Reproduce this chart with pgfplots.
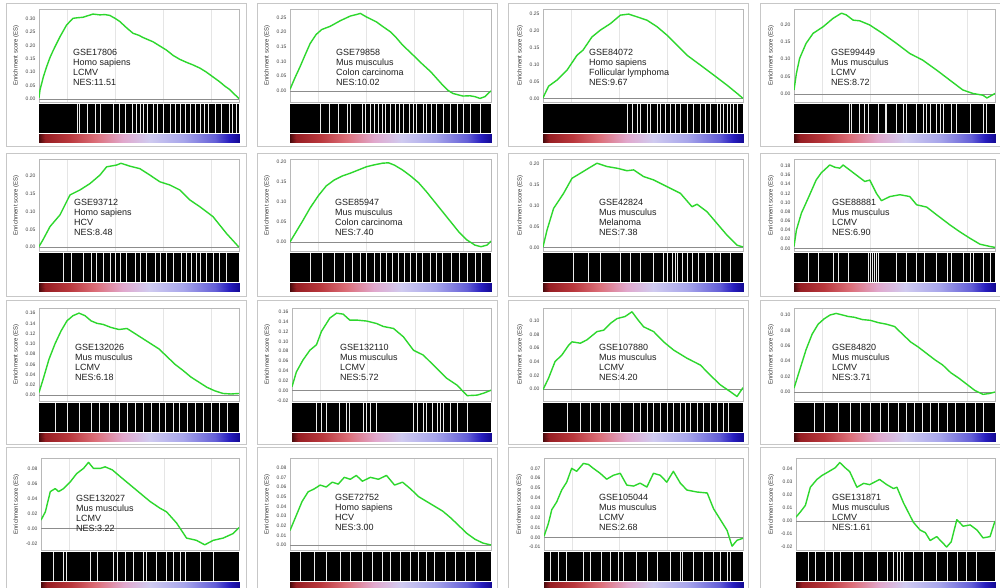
\documentclass[border=0pt]{standalone}
\usepackage{fontspec}
\setmainfont{Liberation Sans}
\usepackage{pgfplots}
\pgfplotsset{compat=1.18}
\definecolor{esgreen}{RGB}{45,215,45}

\pgfplotsset{
  colormap={gsea}{rgb255(0pt)=(70,10,12) rgb255(3pt)=(150,30,35) rgb255(15pt)=(185,55,60) rgb255(28pt)=(220,110,120) rgb255(42pt)=(225,168,205) rgb255(55pt)=(208,203,240) rgb255(72pt)=(168,166,235) rgb255(88pt)=(100,95,215) rgb255(95pt)=(40,30,190) rgb255(100pt)=(20,10,150)},
  esaxis/.style={scale only axis, xmin=0, xmax=100,
    axis line style={black!28}, xtick={14,38,62,86}, xticklabel=\empty,
    xmajorgrids, grid style={black!10}, tick style={draw=none},
    scaled y ticks=false,
    yticklabel style={font=\fontsize{5}{5}\selectfont, text=black!75,
      /pgf/number format/fixed, /pgf/number format/fixed zerofill,
      /pgf/number format/precision=2, /pgf/number format/assume math mode=true},
    ylabel={Enrichment score (ES)},
    ylabel style={font=\fontsize{6}{6}\selectfont, text=black!80}},
  baraxis/.style={scale only axis, hide axis, xmin=0, xmax=100, ymin=0, ymax=1},
  gradaxis/.style={scale only axis, hide axis, view={0}{90}, xmin=0, xmax=100,
    ymin=0, ymax=1, zmin=-1, zmax=1, colormap name=gsea},
}
\tikzset{txt/.style={anchor=north west, align=left, inner sep=0pt,
  font=\fontsize{9}{10.2}\selectfont, text=black!88}}

% #1 left, #2 width, #3 plot top, #4 barcode top, #5 ymin, #6 ymax, #7 yticks, #8 curve, #9 gaps
\newcommand{\gsea}[9]{%
  \pgfmathsetmacro\esh{#4-1.5-#3}%
  \begin{axis}[esaxis, at={(#1pt,-#3pt)}, anchor=north west, width=#2pt, height=\esh pt,
    ymin=#5, ymax=#6, ytick={#7}]
    \addplot[black!45, line width=0.5pt] coordinates {(0,0) (100,0)};
    \addplot[esgreen, line width=1.4pt, line join=round] coordinates {#8};
  \end{axis}
  \begin{axis}[baraxis, at={(#1pt,-#4pt)}, anchor=north west, width=#2pt, height=29pt]
    \addplot[fill=black, draw=none] coordinates {(0,1) (100,1)} \closedcycle;
    \addplot[ycomb, white!92!black, line width=0.55pt, mark=none] coordinates {#9};
  \end{axis}
  \pgfmathsetmacro\gy{#4+30}%
  \begin{axis}[gradaxis, at={(#1pt,-\gy pt)}, anchor=north west, width=#2pt, height=8.5pt]
    \addplot3[surf, shader=interp, point meta=x, mesh/rows=2, mesh/cols=21] coordinates {
      (0,0,0)(5,0,0)(10,0,0)(15,0,0)(20,0,0)(25,0,0)(30,0,0)(35,0,0)(40,0,0)(45,0,0)(50,0,0)
      (55,0,0)(60,0,0)(65,0,0)(70,0,0)(75,0,0)(80,0,0)(85,0,0)(90,0,0)(95,0,0)(100,0,0)
      (0,1,0)(5,1,0)(10,1,0)(15,1,0)(20,1,0)(25,1,0)(30,1,0)(35,1,0)(40,1,0)(45,1,0)(50,1,0)
      (55,1,0)(60,1,0)(65,1,0)(70,1,0)(75,1,0)(80,1,0)(85,1,0)(90,1,0)(95,1,0)(100,1,0)};
  \end{axis}
}

\begin{document}
\begin{tikzpicture}
\useasboundingbox[fill=white] (0,0) rectangle (1000pt,-587pt);
\foreach \cx in {6,257,508,760}{
  \foreach \ry/\rb in {3/146,153/296,300/444,447/600}{
    \draw[black!22, line width=0.6pt] (\cx pt,-\ry pt) rectangle ({(\cx+240)*1pt},-\rb pt);
  }
}

% ---------- row 1
\gsea{39}{200}{9}{104}{-0.014}{0.337}{0,0.05,...,0.30}
{(0,0.004)(0.5,0.033)(2.2,0.083)(3.8,0.12)(5.5,0.155)(7.2,0.183)(10.5,0.233)(13.8,0.277)(17,0.302)(19,0.304)(22,0.306)(24.5,0.312)(27,0.318)(30.4,0.315)(33,0.316)(35.4,0.313)(38,0.302)(40.4,0.29)(44,0.265)(47,0.246)(50,0.238)(52,0.23)(57,0.214)(60,0.2)(63.7,0.183)(67,0.163)(70.4,0.148)(74,0.136)(77,0.127)(80.5,0.115)(83.7,0.1)(87,0.082)(90.3,0.064)(93,0.047)(95.3,0.035)(98,0.015)(100,0.001)}
{(19,1)(20,1)(24,1)(28,1)(30.5,1)(37,1)(40,1)(43,1)(46.5,1)(48.4,1)(50.7,1)(52,1)(54,1)(57,1)(59,1)(62,1)(65.4,1)(68,1)(70.4,1)(73,1)(75.4,1)(78,1)(80.4,1)(82.5,1)(84.5,1)(88.3,1)(91,1)(95,1)(96.8,1)(98.5,1)}
\node[txt] at (73pt,-48.7pt) {GSE17806\\Homo sapiens\\LCMV\\NES:11.51};

\gsea{290}{201}{9}{104}{-0.040}{0.279}{0,0.05,...,0.25}
{(0,0.005)(2.5,0.045)(5,0.082)(7.5,0.122)(10,0.161)(13,0.192)(15.8,0.209)(20,0.22)(25,0.239)(30,0.255)(33,0.26)(35,0.264)(38,0.252)(43,0.235)(46,0.22)(50,0.201)(53,0.18)(56,0.156)(60,0.13)(63,0.11)(66,0.09)(70,0.065)(73,0.042)(76,0.019)(78.5,0.002)(81,-0.009)(86,-0.018)(89.5,-0.017)(92,-0.02)(94.5,-0.026)(97,-0.02)(100,0.0)}
{(15,1)(19.6,1)(24,1)(28.5,1)(30,1)(36,1)(37.3,1)(39.8,1)(42,1)(44,1)(45.8,1)(47.4,1)(50,1)(52.2,1)(54.4,1)(56.4,1)(59.4,1)(61.3,1)(63,1)(66.3,1)(68,1)(70.5,1)(73,1)(76.3,1)(79.6,1)(83,1)(86.2,1)(89.5,1)(94.5,1)}
\node[txt] at (336pt,-48.7pt) {GSE79858\\Mus musculus\\Colon carcinoma\\NES:10.02};

\gsea{543}{200}{9}{104}{-0.012}{0.263}{0,0.05,...,0.25}
{(0,0.002)(2.8,0.036)(7,0.054)(12,0.083)(17,0.127)(20,0.142)(24.5,0.181)(28.7,0.201)(33.7,0.22)(38.7,0.245)(42.8,0.248)(47,0.24)(52,0.23)(57,0.211)(62,0.186)(67,0.157)(72,0.127)(78.7,0.098)(85.3,0.069)(92,0.039)(97,0.015)(100,0)}
{(42,1)(44.5,1)(47,1)(48.7,1)(52,1)(53.7,1)(57,1)(58.7,1)(61,1)(63.7,1)(66.3,1)(68.7,1)(72,1)(75.3,1)(78.7,1)(81,1)(83.7,1)(87,1)(88.7,1)(90.3,1)(92,1)(93.7,1)(95.3,1)(97,1)}
\node[txt] at (589pt,-48.7pt) {GSE84072\\Homo sapiens\\Follicular lymphoma\\NES:9.67};

\gsea{794}{201}{9}{104}{-0.025}{0.244}{0,0.05,...,0.20}
{(0,0.011)(1.2,0.059)(2.8,0.102)(6,0.145)(9.5,0.174)(14.5,0.193)(19.4,0.217)(23.6,0.232)(26,0.227)(29.4,0.212)(32.7,0.21)(37.7,0.198)(44,0.174)(51,0.145)(57.6,0.116)(64,0.097)(71,0.068)(77.6,0.039)(84,0.011)(89,0.001)(94,-0.004)(96,-0.012)(100,0.001)}
{(27.4,1)(28.6,1)(32.7,1)(35.2,1)(36.9,1)(41.9,1)(45.2,1)(46,1)(51,1)(54.3,1)(56,1)(61,1)(64.3,1)(66,1)(67.6,1)(71,1)(72.6,1)(74.3,1)(78.4,1)(80.9,1)(87.5,1)(94.2,1)(95.8,1)}
\node[txt] at (831pt,-48.7pt) {GSE99449\\Mus musculus\\LCMV\\NES:8.72};

% ---------- row 2
\gsea{39}{200}{159}{253}{-0.012}{0.248}{0,0.05,...,0.20}
{(0,0.002)(2,0.021)(5.5,0.058)(10.5,0.091)(15.5,0.147)(20.5,0.161)(25.5,0.179)(30.5,0.203)(33.8,0.226)(38.8,0.231)(41,0.236)(45.4,0.228)(50.4,0.221)(55.4,0.203)(60.4,0.184)(65.4,0.175)(70.4,0.161)(75.4,0.133)(80.4,0.114)(87,0.086)(93.7,0.039)(100,0)}
{(12,1)(16.3,1)(22,1)(26.3,1)(28.8,1)(32,1)(35.4,1)(38,1)(40.4,1)(43.8,1)(48,1)(50.4,1)(53.7,1)(58,1)(60.4,1)(63.7,1)(67,1)(71.2,1)(73.7,1)(76.2,1)(78.7,1)(80.4,1)(83.7,1)(87,1)(90.3,1)(93.7,1)}
\node[txt] at (74pt,-198.7pt) {GSE93712\\Homo sapiens\\HCV\\NES:8.48};

\gsea{290}{201}{159}{253}{-0.024}{0.2075}{0,0.05,...,0.20}
{(0,0)(3,0.025)(6,0.05)(10,0.085)(14,0.115)(18,0.14)(22,0.155)(26,0.165)(30,0.172)(34,0.18)(38,0.188)(42,0.193)(46,0.197)(49,0.198)(52,0.192)(56,0.18)(60,0.165)(64,0.148)(68,0.125)(72,0.1)(76,0.075)(80,0.05)(84,0.025)(88,0.005)(92,-0.008)(95,-0.012)(98,-0.008)(100,0.002)}
{(10,1)(16,1)(22,1)(27,1)(31,1)(35,1)(38,1)(42,1)(45,1)(48,1)(51,1)(54,1)(57,1)(60,1)(63,1)(66,1)(70,1)(73,1)(76,1)(80,1)(84,1)(88,1)(92,1)(95,1)}
\node[txt] at (335pt,-198.7pt) {GSE85947\\Mus musculus\\Colon carcinoma\\NES:7.40};

\gsea{543}{200}{159}{253}{-0.009}{0.212}{0,0.05,...,0.20}
{(0,0.002)(2,0.042)(5.3,0.094)(10.3,0.13)(14.5,0.166)(18.7,0.178)(22.8,0.19)(27,0.202)(32,0.194)(37,0.19)(42,0.184)(45.3,0.186)(50.3,0.17)(55.3,0.162)(62,0.146)(68.7,0.13)(74.5,0.098)(77,0.104)(82,0.086)(87,0.058)(92,0.03)(97,0.006)(100,0.002)}
{(15.3,1)(22.8,1)(28.7,1)(38.7,1)(43.7,1)(48.7,1)(55.3,1)(60.3,1)(62,1)(64.5,1)(66.2,1)(67,1)(69.5,1)(72,1)(74.5,1)(77.8,1)(81.2,1)(85.3,1)(88.7,1)(93.7,1)}
\node[txt] at (599pt,-198.7pt) {GSE42824\\Mus musculus\\Melanoma\\NES:7.38};

\gsea{794}{201}{159}{253}{-0.007}{0.195}{0,0.02,...,0.18}
{(0,0.004)(1.2,0.04)(3.7,0.077)(7,0.109)(11,0.149)(13.6,0.165)(17.8,0.182)(20.3,0.177)(22.8,0.175)(24.4,0.182)(27.7,0.171)(31,0.16)(35.2,0.146)(37.7,0.149)(41,0.12)(43.5,0.104)(47.7,0.113)(52.7,0.117)(57.6,0.113)(61,0.095)(66,0.09)(71,0.073)(77.6,0.051)(82.5,0.036)(87.5,0.022)(92.5,0.009)(97.5,0.004)(100,0.002)}
{(7,1)(12,1)(19.4,1)(22,1)(27,1)(36.9,1)(37.7,1)(39,1)(39.7,1)(41,1)(41.9,1)(51,1)(56,1)(61,1)(65,1)(71,1)(76,1)(78.4,1)(84.2,1)(87.5,1)(89.2,1)(94.2,1)(97.5,1)}
\node[txt] at (832pt,-198.7pt) {GSE88881\\Mus musculus\\LCMV\\NES:6.90};

% ---------- row 3
\gsea{39}{200}{308}{403}{-0.0127}{0.17}{0,0.02,...,0.16}
{(0,0.005)(2,0.03)(5,0.07)(8,0.1)(11,0.125)(14,0.145)(17,0.155)(20,0.16)(23,0.155)(26,0.145)(29,0.14)(32,0.138)(36,0.132)(40,0.128)(44,0.13)(48,0.12)(52,0.11)(56,0.1)(60,0.09)(64,0.075)(68,0.06)(72,0.048)(76,0.035)(80,0.025)(84,0.015)(88,0.008)(92,0.003)(96,0.002)(100,0.003)}
{(8,1)(14,1)(20,1)(26,1)(30,1)(35,1)(40,1)(44,1)(48,1)(52,1)(56,1)(60,1)(63,1)(67,1)(70,1)(74,1)(78,1)(82,1)(86,1)(90,1)(94,1)}
\node[txt] at (75pt,-343.7pt) {GSE132026\\Mus musculus\\LCMV\\NES:6.18};

\gsea{292}{199}{308}{403}{-0.0219}{0.1674}{-0.02,0,...,0.16}
{(0,0.008)(2.2,0.038)(5.5,0.062)(9,0.082)(12.3,0.093)(14.8,0.12)(19,0.147)(22.4,0.157)(25.7,0.155)(29,0.143)(32.4,0.143)(37.5,0.141)(42.5,0.136)(45.9,0.13)(51,0.126)(56,0.109)(61,0.082)(66,0.072)(71,0.052)(77.8,0.025)(83,0.011)(88,-0.01)(93,-0.009)(96.3,-0.005)(100,0.001)}
{(12.3,1)(14.8,1)(17.3,1)(24,1)(27.4,1)(29,1)(35.8,1)(37.5,1)(39.2,1)(42.5,1)(61,1)(62.7,1)(66,1)(67.7,1)(70.3,1)(72.8,1)(74.5,1)(76.1,1)(79.5,1)(82.9,1)(87.9,1)}
\node[txt] at (340pt,-343.7pt) {GSE132110\\Mus musculus\\LCMV\\NES:5.72};

\gsea{543}{200}{308}{403}{-0.0183}{0.1185}{0,0.02,...,0.10}
{(0,-0.001)(2.8,0.016)(6,0.04)(9.5,0.05)(12.8,0.064)(14.5,0.069)(18.7,0.067)(22,0.072)(27,0.084)(30.3,0.086)(33.7,0.096)(37,0.103)(41,0.106)(44.5,0.113)(47,0.103)(50.3,0.091)(55.3,0.084)(60.3,0.069)(65.3,0.057)(72,0.045)(78.7,0.035)(83.7,0.02)(88.7,0.006)(93.7,-0.004)(97,-0.011)(100,0.002)}
{(12,1)(18.7,1)(23.7,1)(28.7,1)(33.7,1)(38.7,1)(45.3,1)(48.7,1)(52,1)(55.3,1)(58.7,1)(62,1)(65.3,1)(68.7,1)(71.2,1)(73.7,1)(77,1)(80.3,1)(83.7,1)(87,1)(90.3,1)(92.8,1)}
\node[txt] at (599pt,-343.7pt) {GSE107880\\Mus musculus\\LCMV\\NES:4.20};

\gsea{794}{201}{308}{403}{-0.0123}{0.109}{0,0.02,...,0.10}
{(0,0.005)(3,0.03)(6,0.055)(9,0.075)(12,0.088)(15,0.095)(18,0.1)(21,0.102)(24,0.1)(27,0.098)(30,0.097)(34,0.094)(38,0.093)(42,0.09)(46,0.088)(50,0.085)(54,0.075)(58,0.065)(62,0.058)(66,0.05)(70,0.042)(74,0.035)(78,0.025)(82,0.018)(86,0.01)(90,0.002)(94,-0.003)(97,-0.002)(100,0.0)}
{(10,1)(15,1)(22,1)(28,1)(33,1)(38,1)(43,1)(47,1)(52,1)(56,1)(60,1)(64,1)(68,1)(72,1)(76,1)(80,1)(85,1)(90,1)(94,1)}
\node[txt] at (832pt,-343.7pt) {GSE84820\\Mus musculus\\LCMV\\NES:3.71};

% ---------- row 4
\gsea{41}{198}{458}{552}{-0.0296}{0.0938}{-0.02,0,...,0.08}
{(0,0.011)(2.2,0.022)(4.7,0.049)(7.2,0.053)(8.9,0.049)(11.4,0.053)(14.8,0.062)(18,0.073)(21.5,0.08)(24,0.088)(26.5,0.08)(30,0.08)(32.4,0.082)(36,0.078)(40,0.069)(45,0.058)(50,0.047)(55,0.036)(60,0.027)(63.4,0.022)(68.5,0.007)(73.5,-0.013)(78.5,-0.016)(82.7,-0.022)(87,-0.016)(92,-0.013)(97,-0.007)(100,0.001)}
{(6.4,1)(11.4,1)(13,1)(24.8,1)(28.2,1)(36.6,1)(38.3,1)(42.4,1)(46.6,1)(51.7,1)(53.4,1)(58.4,1)(63.4,1)(66.8,1)(70.1,1)(72.7,1)(80.2,1)(86.9,1)}
\node[txt] at (76pt,-494.7pt) {GSE132027\\Mus musculus\\LCMV\\NES:3.22};

\gsea{290}{201}{458}{552}{-0.0057}{0.09}{0,0.01,...,0.08}
{(0,0.015)(3,0.03)(6,0.045)(9,0.055)(12,0.058)(15,0.062)(18,0.06)(21,0.065)(24,0.063)(27,0.07)(30,0.068)(33,0.072)(36,0.066)(40,0.07)(44,0.068)(48,0.072)(52,0.062)(56,0.065)(60,0.058)(64,0.05)(68,0.045)(72,0.04)(76,0.035)(80,0.028)(84,0.02)(88,0.012)(92,0.006)(96,0.002)(100,0.0)}
{(5,1)(12,1)(18,1)(25,1)(30,1)(36,1)(41,1)(46,1)(50,1)(55,1)(60,1)(64,1)(68,1)(72,1)(77,1)(82,1)(87,1)(92,1)}
\node[txt] at (335pt,-493.7pt) {GSE72752\\Homo sapiens\\HCV\\NES:3.00};

\gsea{544}{199}{458}{552}{-0.0134}{0.0805}{-0.01,0,...,0.07}
{(0,0.001)(2.2,0.014)(3.9,0.028)(6.4,0.036)(8.9,0.048)(11.4,0.056)(13.9,0.07)(16.4,0.067)(19.8,0.075)(22.3,0.074)(24.8,0.07)(28.2,0.065)(31.5,0.059)(34.9,0.063)(38.3,0.065)(41.6,0.053)(45,0.052)(48.3,0.055)(51.7,0.051)(55,0.065)(58.4,0.063)(61.7,0.056)(65,0.067)(68.5,0.055)(71.8,0.048)(76.8,0.046)(82,0.045)(85.2,0.029)(88.6,0.018)(92,0.007)(94.5,-0.009)(97,-0.003)(100,-0.001)}
{(3,1)(7.2,1)(11.4,1)(19.8,1)(23.2,1)(29,1)(33.2,1)(37.4,1)(40,1)(46.6,1)(51.7,1)(56.7,1)(63.4,1)(68.5,1)(69.3,1)(75.2,1)(80.2,1)(85.2,1)(88.6,1)(92,1)(93.6,1)}
\node[txt] at (599pt,-493.7pt) {GSE105044\\Mus musculus\\LCMV\\NES:2.68};

\gsea{796}{199}{458}{552}{-0.0227}{0.0485}{-0.02,-0.01,...,0.04}
{(0,0.003)(2.2,0.007)(4.7,0.012)(7.2,0.026)(10.5,0.032)(13,0.035)(16.4,0.038)(19.7,0.041)(22,0.045)(24.7,0.041)(27,0.038)(30.6,0.026)(34,0.029)(37,0.028)(42,0.032)(45.6,0.028)(49,0.025)(50.7,0.026)(54,0.014)(59,-0.001)(62.4,-0.007)(65,-0.009)(67.4,-0.015)(70.7,-0.012)(75.7,-0.02)(78,-0.016)(80.8,0.001)(84,-0.004)(87.5,-0.003)(91,-0.007)(94,-0.013)(97.5,-0.012)(100,0)}
{(6.4,1)(9.7,1)(14.7,1)(18.9,1)(22.2,1)(28.9,1)(33.9,1)(40.6,1)(45.7,1)(49,1)(50.7,1)(52.3,1)(54,1)(59,1)(64.2,1)(70.7,1)(75.8,1)(80.8,1)(85.8,1)(90.8,1)}
\node[txt] at (832pt,-493.7pt) {GSE131871\\Mus musculus\\LCMV\\NES:1.61};
\end{tikzpicture}
\end{document}
